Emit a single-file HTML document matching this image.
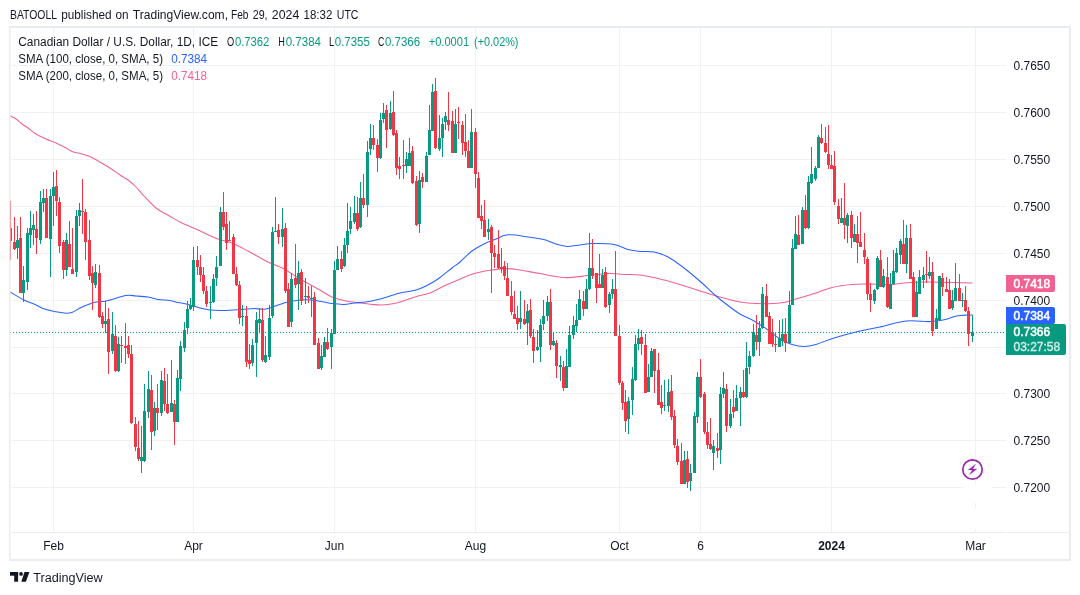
<!DOCTYPE html>
<html><head><meta charset="utf-8"><style>
html,body{margin:0;padding:0;background:#fff;width:1080px;height:595px;overflow:hidden;}
svg{display:block;will-change:transform;}
text{font-family:"Liberation Sans",sans-serif;}
.ax{font-size:12px;fill:#131722;}
.hd{font-size:12.5px;fill:#131722;}
</style></head><body>
<svg width="1080" height="595" viewBox="0 0 1080 595" shape-rendering="crispEdges">
<text x="10.0" y="19" class="hd" textLength="47.0" lengthAdjust="spacingAndGlyphs">BATOOLL</text><text x="61.2" y="19" class="hd" textLength="50.4" lengthAdjust="spacingAndGlyphs">published</text><text x="115.5" y="19" class="hd" textLength="13.1" lengthAdjust="spacingAndGlyphs">on</text><text x="132.8" y="19" class="hd" textLength="95.2" lengthAdjust="spacingAndGlyphs">TradingView.com,</text><text x="231.0" y="19" class="hd" textLength="17.5" lengthAdjust="spacingAndGlyphs">Feb</text><text x="252.7" y="19" class="hd" textLength="14.9" lengthAdjust="spacingAndGlyphs">29,</text><text x="271.8" y="19" class="hd" textLength="27.5" lengthAdjust="spacingAndGlyphs">2024</text><text x="303.5" y="19" class="hd" textLength="28.8" lengthAdjust="spacingAndGlyphs">18:32</text><text x="336.8" y="19" class="hd" textLength="21.7" lengthAdjust="spacingAndGlyphs">UTC</text>

<rect x="11" y="532" width="995" height="1" fill="#e9ecf1"/>
<rect x="1007" y="532" width="62" height="1" fill="#e9ecf1"/>
<defs><clipPath id="cp"><rect x="10" y="28" width="996" height="504"/></clipPath></defs>
<g clip-path="url(#cp)">
<rect x="11" y="487" width="995" height="1" fill="#eff1f3"/>
<rect x="11" y="440" width="995" height="1" fill="#eff1f3"/>
<rect x="11" y="393" width="995" height="1" fill="#eff1f3"/>
<rect x="11" y="347" width="995" height="1" fill="#eff1f3"/>
<rect x="11" y="300" width="995" height="1" fill="#eff1f3"/>
<rect x="11" y="253" width="995" height="1" fill="#eff1f3"/>
<rect x="11" y="206" width="995" height="1" fill="#eff1f3"/>
<rect x="11" y="159" width="995" height="1" fill="#eff1f3"/>
<rect x="11" y="112" width="995" height="1" fill="#eff1f3"/>
<rect x="11" y="65" width="995" height="1" fill="#eff1f3"/>
<rect x="53" y="28" width="1" height="504" fill="#eff1f3"/>
<rect x="193" y="28" width="1" height="504" fill="#eff1f3"/>
<rect x="334" y="28" width="1" height="504" fill="#eff1f3"/>
<rect x="475" y="28" width="1" height="504" fill="#eff1f3"/>
<rect x="619" y="28" width="1" height="504" fill="#eff1f3"/>
<rect x="700" y="28" width="1" height="504" fill="#eff1f3"/>
<rect x="831" y="28" width="1" height="504" fill="#eff1f3"/>
<rect x="975" y="28" width="1" height="504" fill="#eff1f3"/>
<g shape-rendering="geometricPrecision">
<path d="M10,115.6 C11.00,116.17 14.00,117.60 16,119 C18.00,120.40 20.00,122.50 22,124 C24.00,125.50 25.67,126.33 28,128 C30.33,129.67 33.00,132.17 36,134 C39.00,135.83 42.67,137.50 46,139 C49.33,140.50 52.67,141.50 56,143 C59.33,144.50 63.33,146.57 66,148 C68.67,149.43 69.33,150.60 72,151.6 C74.67,152.60 79.00,153.17 82,154 C85.00,154.83 87.33,155.43 90,156.6 C92.67,157.77 94.67,159.10 98,161 C101.33,162.90 106.33,165.67 110,168 C113.67,170.33 117.00,173.00 120,175 C123.00,177.00 125.33,178.00 128,180 C130.67,182.00 133.33,184.33 136,187 C138.67,189.67 140.67,192.50 144,196 C147.33,199.50 152.33,205.00 156,208 C159.67,211.00 163.00,212.23 166,214 C169.00,215.77 171.33,217.10 174,218.6 C176.67,220.10 178.00,221.10 182,223 C186.00,224.90 192.00,227.33 198,230 C204.00,232.67 212.33,236.83 218,239 C223.67,241.17 227.00,241.00 232,243 C237.00,245.00 242.33,248.00 248,251 C253.67,254.00 260.00,258.00 266,261 C272.00,264.00 278.33,266.00 284,269 C289.67,272.00 294.33,275.67 300,279 C305.67,282.33 312.67,286.00 318,289 C323.33,292.00 327.33,295.00 332,297 C336.67,299.00 341.33,300.00 346,301 C350.67,302.00 355.67,302.43 360,303 C364.33,303.57 368.33,304.07 372,304.4 C375.67,304.73 378.33,305.13 382,305 C385.67,304.87 390.00,304.43 394,303.6 C398.00,302.77 402.00,301.27 406,300 C410.00,298.73 414.00,297.17 418,296 C422.00,294.83 425.33,294.83 430,293 C434.67,291.17 441.33,287.17 446,285 C450.67,282.83 453.33,281.90 458,280 C462.67,278.10 468.33,275.27 474,273.6 C479.67,271.93 486.33,270.83 492,270 C497.67,269.17 503.33,268.60 508,268.6 C512.67,268.60 514.67,269.17 520,270 C525.33,270.83 532.67,272.33 540,273.6 C547.33,274.87 556.00,277.27 564,277.6 C572.00,277.93 580.67,276.27 588,275.6 C595.33,274.93 602.00,273.80 608,273.6 C614.00,273.40 618.67,274.17 624,274.4 C629.33,274.63 634.00,274.23 640,275 C646.00,275.77 653.33,277.43 660,279 C666.67,280.57 673.33,282.40 680,284.4 C686.67,286.40 693.33,288.90 700,291 C706.67,293.10 713.33,295.17 720,297 C726.67,298.83 734.00,300.90 740,302 C746.00,303.10 749.33,303.43 756,303.6 C762.67,303.77 773.33,303.77 780,303 C786.67,302.23 790.00,300.67 796,299 C802.00,297.33 810.00,294.93 816,293 C822.00,291.07 826.00,288.83 832,287.4 C838.00,285.97 846.00,284.97 852,284.4 C858.00,283.83 861.33,284.00 868,284 C874.67,284.00 885.00,284.67 892,284.4 C899.00,284.13 903.67,282.80 910,282.4 C916.33,282.00 919.58,281.90 930,282 C940.42,282.10 965.42,282.83 972.5,283" fill="none" stroke="#f06292" stroke-width="1.05"/>
<path d="M10,292 C12.33,293.33 20.00,298.00 24,300 C28.00,302.00 30.33,302.40 34,304 C37.67,305.60 41.00,308.10 46,309.6 C51.00,311.10 59.67,312.53 64,313 C68.33,313.47 69.00,313.40 72,312.4 C75.00,311.40 78.33,308.67 82,307 C85.67,305.33 90.00,303.40 94,302.4 C98.00,301.40 100.67,302.13 106,301 C111.33,299.87 121.00,296.43 126,295.6 C131.00,294.77 132.33,295.77 136,296 C139.67,296.23 144.33,296.43 148,297 C151.67,297.57 154.33,298.80 158,299.4 C161.67,300.00 166.67,300.10 170,300.6 C173.33,301.10 175.00,301.77 178,302.4 C181.00,303.03 184.33,303.47 188,304.4 C191.67,305.33 196.33,307.07 200,308 C203.67,308.93 206.00,309.60 210,310 C214.00,310.40 218.67,310.50 224,310.4 C229.33,310.30 237.00,309.70 242,309.4 C247.00,309.10 250.00,308.67 254,308.6 C258.00,308.53 262.00,309.60 266,309 C270.00,308.40 274.33,306.17 278,305 C281.67,303.83 284.33,302.83 288,302 C291.67,301.17 296.00,300.33 300,300 C304.00,299.67 308.00,299.67 312,300 C316.00,300.33 320.67,301.40 324,302 C327.33,302.60 328.67,303.20 332,303.6 C335.33,304.00 340.33,304.50 344,304.4 C347.67,304.30 350.33,303.40 354,303 C357.67,302.60 362.00,302.57 366,302 C370.00,301.43 374.00,300.60 378,299.6 C382.00,298.60 386.33,297.10 390,296 C393.67,294.90 395.67,294.00 400,293 C404.33,292.00 411.67,291.17 416,290 C420.33,288.83 422.33,287.83 426,286 C429.67,284.17 433.67,282.00 438,279 C442.33,276.00 448.33,270.83 452,268 C455.67,265.17 456.67,264.83 460,262 C463.33,259.17 468.00,254.00 472,251 C476.00,248.00 480.00,246.00 484,244 C488.00,242.00 492.33,240.50 496,239 C499.67,237.50 502.67,235.67 506,235 C509.33,234.33 512.33,234.67 516,235 C519.67,235.33 523.33,236.23 528,237 C532.67,237.77 539.33,238.43 544,239.6 C548.67,240.77 552.00,242.87 556,244 C560.00,245.13 564.00,246.23 568,246.4 C572.00,246.57 576.00,245.47 580,245 C584.00,244.53 586.33,243.70 592,243.6 C597.67,243.50 608.00,243.40 614,244.4 C620.00,245.40 623.67,248.43 628,249.6 C632.33,250.77 635.67,251.00 640,251.4 C644.33,251.80 649.33,251.07 654,252 C658.67,252.93 663.00,254.33 668,257 C673.00,259.67 678.33,263.67 684,268 C689.67,272.33 696.67,278.33 702,283 C707.33,287.67 711.33,292.00 716,296 C720.67,300.00 726.00,304.00 730,307 C734.00,310.00 736.00,311.67 740,314 C744.00,316.33 749.33,318.33 754,321 C758.67,323.67 763.67,327.00 768,330 C772.33,333.00 776.00,336.60 780,339 C784.00,341.40 788.00,343.17 792,344.4 C796.00,345.63 800.00,346.40 804,346.4 C808.00,346.40 811.00,345.80 816,344.4 C821.00,343.00 826.67,340.23 834,338 C841.33,335.77 852.33,332.83 860,331 C867.67,329.17 872.33,328.67 880,327 C887.67,325.33 897.67,321.90 906,321 C914.33,320.10 923.42,321.85 930,321.6 C936.58,321.35 941.07,320.43 945.5,319.5 C949.93,318.57 952.90,316.75 956.6,316 C960.30,315.25 965.05,315.17 967.7,315 C970.35,314.83 971.70,315.00 972.5,315" fill="none" stroke="#2962ff" stroke-width="1.05"/>
</g>
<rect x="10" y="201" width="1" height="59" fill="#f23645"/>
<rect x="9" y="228" width="3" height="13" fill="#f23645"/>
<rect x="14" y="217" width="1" height="33" fill="#f23645"/>
<rect x="13" y="242" width="3" height="7" fill="#f23645"/>
<rect x="17" y="226" width="1" height="33" fill="#089981"/>
<rect x="16" y="240" width="3" height="8" fill="#089981"/>
<rect x="20" y="217" width="1" height="76" fill="#f23645"/>
<rect x="19" y="238" width="3" height="55" fill="#f23645"/>
<rect x="23" y="266" width="1" height="36" fill="#089981"/>
<rect x="22" y="280" width="3" height="13" fill="#089981"/>
<rect x="27" y="228" width="1" height="62" fill="#089981"/>
<rect x="26" y="233" width="3" height="49" fill="#089981"/>
<rect x="30" y="211" width="1" height="37" fill="#089981"/>
<rect x="29" y="228" width="3" height="7" fill="#089981"/>
<rect x="33" y="214" width="1" height="31" fill="#089981"/>
<rect x="32" y="225" width="3" height="5" fill="#089981"/>
<rect x="36" y="211" width="1" height="43" fill="#f23645"/>
<rect x="35" y="229" width="3" height="9" fill="#f23645"/>
<rect x="40" y="191" width="1" height="53" fill="#089981"/>
<rect x="39" y="202" width="3" height="38" fill="#089981"/>
<rect x="43" y="189" width="1" height="23" fill="#089981"/>
<rect x="42" y="198" width="3" height="5" fill="#089981"/>
<rect x="46" y="189" width="1" height="49" fill="#f23645"/>
<rect x="45" y="198" width="3" height="40" fill="#f23645"/>
<rect x="50" y="189" width="1" height="88" fill="#089981"/>
<rect x="49" y="196" width="3" height="43" fill="#089981"/>
<rect x="53" y="172" width="1" height="54" fill="#089981"/>
<rect x="52" y="187" width="3" height="9" fill="#089981"/>
<rect x="56" y="170" width="1" height="46" fill="#f23645"/>
<rect x="55" y="186" width="3" height="15" fill="#f23645"/>
<rect x="59" y="197" width="1" height="56" fill="#f23645"/>
<rect x="58" y="202" width="3" height="44" fill="#f23645"/>
<rect x="63" y="240" width="1" height="39" fill="#f23645"/>
<rect x="62" y="242" width="3" height="28" fill="#f23645"/>
<rect x="66" y="233" width="1" height="43" fill="#089981"/>
<rect x="65" y="240" width="3" height="30" fill="#089981"/>
<rect x="69" y="221" width="1" height="46" fill="#f23645"/>
<rect x="68" y="244" width="3" height="23" fill="#f23645"/>
<rect x="72" y="228" width="1" height="46" fill="#f23645"/>
<rect x="71" y="269" width="3" height="5" fill="#f23645"/>
<rect x="76" y="210" width="1" height="67" fill="#089981"/>
<rect x="75" y="216" width="3" height="56" fill="#089981"/>
<rect x="79" y="203" width="1" height="23" fill="#089981"/>
<rect x="78" y="210" width="3" height="6" fill="#089981"/>
<rect x="82" y="179" width="1" height="55" fill="#f23645"/>
<rect x="81" y="211" width="3" height="1" fill="#f23645"/>
<rect x="85" y="209" width="1" height="51" fill="#f23645"/>
<rect x="84" y="212" width="3" height="30" fill="#f23645"/>
<rect x="89" y="220" width="1" height="60" fill="#f23645"/>
<rect x="88" y="240" width="3" height="36" fill="#f23645"/>
<rect x="92" y="266" width="1" height="44" fill="#f23645"/>
<rect x="91" y="273" width="3" height="10" fill="#f23645"/>
<rect x="95" y="264" width="1" height="24" fill="#089981"/>
<rect x="94" y="272" width="3" height="13" fill="#089981"/>
<rect x="99" y="265" width="1" height="53" fill="#f23645"/>
<rect x="98" y="273" width="3" height="44" fill="#f23645"/>
<rect x="102" y="312" width="1" height="16" fill="#f23645"/>
<rect x="101" y="316" width="3" height="8" fill="#f23645"/>
<rect x="105" y="301" width="1" height="32" fill="#089981"/>
<rect x="104" y="321" width="3" height="3" fill="#089981"/>
<rect x="108" y="308" width="1" height="66" fill="#f23645"/>
<rect x="107" y="319" width="3" height="33" fill="#f23645"/>
<rect x="112" y="312" width="1" height="42" fill="#089981"/>
<rect x="111" y="334" width="3" height="17" fill="#089981"/>
<rect x="115" y="325" width="1" height="47" fill="#f23645"/>
<rect x="114" y="336" width="3" height="35" fill="#f23645"/>
<rect x="118" y="337" width="1" height="35" fill="#089981"/>
<rect x="117" y="344" width="3" height="27" fill="#089981"/>
<rect x="121" y="336" width="1" height="27" fill="#f23645"/>
<rect x="120" y="345" width="3" height="1" fill="#f23645"/>
<rect x="125" y="323" width="1" height="41" fill="#f23645"/>
<rect x="124" y="346" width="3" height="2" fill="#f23645"/>
<rect x="128" y="336" width="1" height="22" fill="#f23645"/>
<rect x="127" y="345" width="3" height="9" fill="#f23645"/>
<rect x="131" y="345" width="1" height="79" fill="#f23645"/>
<rect x="130" y="354" width="3" height="69" fill="#f23645"/>
<rect x="135" y="417" width="1" height="34" fill="#f23645"/>
<rect x="134" y="424" width="3" height="23" fill="#f23645"/>
<rect x="138" y="421" width="1" height="40" fill="#f23645"/>
<rect x="137" y="448" width="3" height="11" fill="#f23645"/>
<rect x="141" y="426" width="1" height="47" fill="#089981"/>
<rect x="140" y="457" width="3" height="4" fill="#089981"/>
<rect x="144" y="384" width="1" height="78" fill="#089981"/>
<rect x="143" y="411" width="3" height="50" fill="#089981"/>
<rect x="148" y="371" width="1" height="47" fill="#089981"/>
<rect x="147" y="389" width="3" height="23" fill="#089981"/>
<rect x="151" y="375" width="1" height="75" fill="#f23645"/>
<rect x="150" y="390" width="3" height="42" fill="#f23645"/>
<rect x="154" y="402" width="1" height="34" fill="#089981"/>
<rect x="153" y="408" width="3" height="23" fill="#089981"/>
<rect x="157" y="384" width="1" height="46" fill="#f23645"/>
<rect x="156" y="408" width="3" height="5" fill="#f23645"/>
<rect x="161" y="371" width="1" height="45" fill="#089981"/>
<rect x="160" y="380" width="3" height="33" fill="#089981"/>
<rect x="164" y="368" width="1" height="43" fill="#f23645"/>
<rect x="163" y="381" width="3" height="23" fill="#f23645"/>
<rect x="167" y="374" width="1" height="40" fill="#f23645"/>
<rect x="166" y="404" width="3" height="9" fill="#f23645"/>
<rect x="171" y="360" width="1" height="52" fill="#089981"/>
<rect x="170" y="403" width="3" height="9" fill="#089981"/>
<rect x="174" y="400" width="1" height="45" fill="#f23645"/>
<rect x="173" y="404" width="3" height="18" fill="#f23645"/>
<rect x="177" y="370" width="1" height="52" fill="#089981"/>
<rect x="176" y="378" width="3" height="44" fill="#089981"/>
<rect x="180" y="341" width="1" height="50" fill="#089981"/>
<rect x="179" y="346" width="3" height="33" fill="#089981"/>
<rect x="184" y="322" width="1" height="30" fill="#089981"/>
<rect x="183" y="330" width="3" height="18" fill="#089981"/>
<rect x="187" y="301" width="1" height="33" fill="#089981"/>
<rect x="186" y="309" width="3" height="19" fill="#089981"/>
<rect x="190" y="298" width="1" height="12" fill="#089981"/>
<rect x="189" y="305" width="3" height="4" fill="#089981"/>
<rect x="193" y="247" width="1" height="64" fill="#089981"/>
<rect x="192" y="260" width="3" height="47" fill="#089981"/>
<rect x="197" y="246" width="1" height="29" fill="#f23645"/>
<rect x="196" y="260" width="3" height="7" fill="#f23645"/>
<rect x="200" y="255" width="1" height="27" fill="#f23645"/>
<rect x="199" y="267" width="3" height="8" fill="#f23645"/>
<rect x="203" y="267" width="1" height="27" fill="#f23645"/>
<rect x="202" y="275" width="3" height="16" fill="#f23645"/>
<rect x="206" y="286" width="1" height="21" fill="#f23645"/>
<rect x="205" y="291" width="3" height="13" fill="#f23645"/>
<rect x="210" y="286" width="1" height="33" fill="#089981"/>
<rect x="209" y="302" width="3" height="1" fill="#089981"/>
<rect x="213" y="274" width="1" height="29" fill="#089981"/>
<rect x="212" y="279" width="3" height="23" fill="#089981"/>
<rect x="216" y="256" width="1" height="30" fill="#089981"/>
<rect x="215" y="267" width="3" height="11" fill="#089981"/>
<rect x="220" y="207" width="1" height="59" fill="#089981"/>
<rect x="219" y="212" width="3" height="54" fill="#089981"/>
<rect x="223" y="192" width="1" height="38" fill="#f23645"/>
<rect x="222" y="212" width="3" height="15" fill="#f23645"/>
<rect x="226" y="212" width="1" height="38" fill="#f23645"/>
<rect x="225" y="224" width="3" height="19" fill="#f23645"/>
<rect x="229" y="221" width="1" height="20" fill="#f23645"/>
<rect x="228" y="240" width="3" height="1" fill="#f23645"/>
<rect x="233" y="234" width="1" height="40" fill="#f23645"/>
<rect x="232" y="237" width="3" height="37" fill="#f23645"/>
<rect x="236" y="267" width="1" height="19" fill="#f23645"/>
<rect x="235" y="274" width="3" height="11" fill="#f23645"/>
<rect x="239" y="281" width="1" height="43" fill="#f23645"/>
<rect x="238" y="285" width="3" height="33" fill="#f23645"/>
<rect x="242" y="305" width="1" height="21" fill="#089981"/>
<rect x="241" y="316" width="3" height="1" fill="#089981"/>
<rect x="246" y="306" width="1" height="61" fill="#f23645"/>
<rect x="245" y="316" width="3" height="46" fill="#f23645"/>
<rect x="249" y="344" width="1" height="25" fill="#f23645"/>
<rect x="248" y="360" width="3" height="4" fill="#f23645"/>
<rect x="252" y="339" width="1" height="27" fill="#089981"/>
<rect x="251" y="345" width="3" height="18" fill="#089981"/>
<rect x="256" y="312" width="1" height="65" fill="#089981"/>
<rect x="255" y="320" width="3" height="23" fill="#089981"/>
<rect x="259" y="309" width="1" height="23" fill="#089981"/>
<rect x="258" y="319" width="3" height="4" fill="#089981"/>
<rect x="262" y="308" width="1" height="54" fill="#f23645"/>
<rect x="261" y="320" width="3" height="40" fill="#f23645"/>
<rect x="265" y="336" width="1" height="27" fill="#089981"/>
<rect x="264" y="355" width="3" height="7" fill="#089981"/>
<rect x="269" y="305" width="1" height="55" fill="#089981"/>
<rect x="268" y="318" width="3" height="39" fill="#089981"/>
<rect x="272" y="227" width="1" height="91" fill="#089981"/>
<rect x="271" y="232" width="3" height="84" fill="#089981"/>
<rect x="275" y="197" width="1" height="35" fill="#089981"/>
<rect x="274" y="231" width="3" height="1" fill="#089981"/>
<rect x="278" y="224" width="1" height="20" fill="#f23645"/>
<rect x="277" y="230" width="3" height="7" fill="#f23645"/>
<rect x="282" y="208" width="1" height="39" fill="#089981"/>
<rect x="281" y="229" width="3" height="8" fill="#089981"/>
<rect x="285" y="223" width="1" height="70" fill="#f23645"/>
<rect x="284" y="228" width="3" height="63" fill="#f23645"/>
<rect x="288" y="283" width="1" height="44" fill="#f23645"/>
<rect x="287" y="289" width="3" height="38" fill="#f23645"/>
<rect x="291" y="273" width="1" height="54" fill="#089981"/>
<rect x="290" y="279" width="3" height="43" fill="#089981"/>
<rect x="295" y="244" width="1" height="44" fill="#f23645"/>
<rect x="294" y="278" width="3" height="7" fill="#f23645"/>
<rect x="298" y="261" width="1" height="49" fill="#089981"/>
<rect x="297" y="273" width="3" height="11" fill="#089981"/>
<rect x="301" y="269" width="1" height="36" fill="#f23645"/>
<rect x="300" y="272" width="3" height="29" fill="#f23645"/>
<rect x="305" y="278" width="1" height="26" fill="#089981"/>
<rect x="304" y="296" width="3" height="1" fill="#089981"/>
<rect x="308" y="286" width="1" height="17" fill="#f23645"/>
<rect x="307" y="296" width="3" height="2" fill="#f23645"/>
<rect x="311" y="286" width="1" height="31" fill="#089981"/>
<rect x="310" y="298" width="3" height="1" fill="#089981"/>
<rect x="314" y="292" width="1" height="53" fill="#f23645"/>
<rect x="313" y="297" width="3" height="48" fill="#f23645"/>
<rect x="318" y="338" width="1" height="31" fill="#f23645"/>
<rect x="317" y="343" width="3" height="26" fill="#f23645"/>
<rect x="321" y="345" width="1" height="25" fill="#089981"/>
<rect x="320" y="356" width="3" height="12" fill="#089981"/>
<rect x="324" y="337" width="1" height="20" fill="#089981"/>
<rect x="323" y="342" width="3" height="15" fill="#089981"/>
<rect x="327" y="328" width="1" height="22" fill="#f23645"/>
<rect x="326" y="342" width="3" height="7" fill="#f23645"/>
<rect x="331" y="329" width="1" height="40" fill="#089981"/>
<rect x="330" y="333" width="3" height="14" fill="#089981"/>
<rect x="334" y="261" width="1" height="73" fill="#089981"/>
<rect x="333" y="270" width="3" height="64" fill="#089981"/>
<rect x="337" y="246" width="1" height="24" fill="#089981"/>
<rect x="336" y="259" width="3" height="11" fill="#089981"/>
<rect x="341" y="251" width="1" height="21" fill="#f23645"/>
<rect x="340" y="259" width="3" height="10" fill="#f23645"/>
<rect x="344" y="238" width="1" height="29" fill="#089981"/>
<rect x="343" y="245" width="3" height="21" fill="#089981"/>
<rect x="347" y="203" width="1" height="50" fill="#089981"/>
<rect x="346" y="231" width="3" height="14" fill="#089981"/>
<rect x="350" y="207" width="1" height="27" fill="#089981"/>
<rect x="349" y="221" width="3" height="8" fill="#089981"/>
<rect x="354" y="196" width="1" height="28" fill="#089981"/>
<rect x="353" y="213" width="3" height="9" fill="#089981"/>
<rect x="357" y="197" width="1" height="34" fill="#f23645"/>
<rect x="356" y="213" width="3" height="16" fill="#f23645"/>
<rect x="360" y="182" width="1" height="46" fill="#089981"/>
<rect x="359" y="198" width="3" height="29" fill="#089981"/>
<rect x="363" y="174" width="1" height="34" fill="#f23645"/>
<rect x="362" y="198" width="3" height="7" fill="#f23645"/>
<rect x="367" y="141" width="1" height="76" fill="#089981"/>
<rect x="366" y="152" width="3" height="53" fill="#089981"/>
<rect x="370" y="124" width="1" height="31" fill="#089981"/>
<rect x="369" y="138" width="3" height="11" fill="#089981"/>
<rect x="373" y="125" width="1" height="25" fill="#f23645"/>
<rect x="372" y="138" width="3" height="7" fill="#f23645"/>
<rect x="377" y="139" width="1" height="33" fill="#f23645"/>
<rect x="376" y="145" width="3" height="13" fill="#f23645"/>
<rect x="380" y="113" width="1" height="46" fill="#089981"/>
<rect x="379" y="120" width="3" height="38" fill="#089981"/>
<rect x="383" y="103" width="1" height="20" fill="#089981"/>
<rect x="382" y="113" width="3" height="6" fill="#089981"/>
<rect x="386" y="105" width="1" height="43" fill="#f23645"/>
<rect x="385" y="110" width="3" height="20" fill="#f23645"/>
<rect x="390" y="101" width="1" height="29" fill="#089981"/>
<rect x="389" y="113" width="3" height="16" fill="#089981"/>
<rect x="393" y="91" width="1" height="45" fill="#f23645"/>
<rect x="392" y="112" width="3" height="23" fill="#f23645"/>
<rect x="396" y="130" width="1" height="45" fill="#f23645"/>
<rect x="395" y="133" width="3" height="35" fill="#f23645"/>
<rect x="399" y="157" width="1" height="22" fill="#f23645"/>
<rect x="398" y="166" width="3" height="3" fill="#f23645"/>
<rect x="403" y="140" width="1" height="39" fill="#f23645"/>
<rect x="402" y="165" width="3" height="1" fill="#f23645"/>
<rect x="406" y="152" width="1" height="21" fill="#089981"/>
<rect x="405" y="159" width="3" height="7" fill="#089981"/>
<rect x="409" y="138" width="1" height="28" fill="#089981"/>
<rect x="408" y="153" width="3" height="13" fill="#089981"/>
<rect x="412" y="146" width="1" height="38" fill="#f23645"/>
<rect x="411" y="151" width="3" height="32" fill="#f23645"/>
<rect x="416" y="176" width="1" height="50" fill="#f23645"/>
<rect x="415" y="181" width="3" height="44" fill="#f23645"/>
<rect x="419" y="171" width="1" height="62" fill="#089981"/>
<rect x="418" y="180" width="3" height="44" fill="#089981"/>
<rect x="422" y="173" width="1" height="15" fill="#f23645"/>
<rect x="421" y="177" width="3" height="5" fill="#f23645"/>
<rect x="426" y="152" width="1" height="30" fill="#089981"/>
<rect x="425" y="156" width="3" height="26" fill="#089981"/>
<rect x="429" y="105" width="1" height="50" fill="#089981"/>
<rect x="428" y="130" width="3" height="25" fill="#089981"/>
<rect x="432" y="84" width="1" height="47" fill="#089981"/>
<rect x="431" y="92" width="3" height="39" fill="#089981"/>
<rect x="435" y="78" width="1" height="71" fill="#f23645"/>
<rect x="434" y="91" width="3" height="57" fill="#f23645"/>
<rect x="439" y="115" width="1" height="36" fill="#089981"/>
<rect x="438" y="138" width="3" height="11" fill="#089981"/>
<rect x="442" y="118" width="1" height="39" fill="#089981"/>
<rect x="441" y="124" width="3" height="14" fill="#089981"/>
<rect x="445" y="112" width="1" height="18" fill="#089981"/>
<rect x="444" y="116" width="3" height="6" fill="#089981"/>
<rect x="448" y="92" width="1" height="39" fill="#f23645"/>
<rect x="447" y="120" width="3" height="5" fill="#f23645"/>
<rect x="452" y="111" width="1" height="42" fill="#f23645"/>
<rect x="451" y="121" width="3" height="32" fill="#f23645"/>
<rect x="455" y="109" width="1" height="44" fill="#089981"/>
<rect x="454" y="124" width="3" height="29" fill="#089981"/>
<rect x="458" y="107" width="1" height="32" fill="#f23645"/>
<rect x="457" y="122" width="3" height="1" fill="#f23645"/>
<rect x="462" y="121" width="1" height="34" fill="#f23645"/>
<rect x="461" y="125" width="3" height="18" fill="#f23645"/>
<rect x="465" y="114" width="1" height="43" fill="#f23645"/>
<rect x="464" y="142" width="3" height="9" fill="#f23645"/>
<rect x="468" y="140" width="1" height="28" fill="#f23645"/>
<rect x="467" y="151" width="3" height="17" fill="#f23645"/>
<rect x="471" y="109" width="1" height="59" fill="#089981"/>
<rect x="470" y="132" width="3" height="36" fill="#089981"/>
<rect x="475" y="128" width="1" height="60" fill="#f23645"/>
<rect x="474" y="132" width="3" height="42" fill="#f23645"/>
<rect x="478" y="172" width="1" height="46" fill="#f23645"/>
<rect x="477" y="178" width="3" height="40" fill="#f23645"/>
<rect x="481" y="205" width="1" height="24" fill="#f23645"/>
<rect x="480" y="216" width="3" height="5" fill="#f23645"/>
<rect x="484" y="200" width="1" height="37" fill="#f23645"/>
<rect x="483" y="220" width="3" height="17" fill="#f23645"/>
<rect x="488" y="219" width="1" height="21" fill="#089981"/>
<rect x="487" y="229" width="3" height="3" fill="#089981"/>
<rect x="491" y="225" width="1" height="68" fill="#f23645"/>
<rect x="490" y="227" width="3" height="26" fill="#f23645"/>
<rect x="494" y="245" width="1" height="23" fill="#f23645"/>
<rect x="493" y="253" width="3" height="4" fill="#f23645"/>
<rect x="498" y="230" width="1" height="39" fill="#f23645"/>
<rect x="497" y="254" width="3" height="14" fill="#f23645"/>
<rect x="501" y="248" width="1" height="25" fill="#f23645"/>
<rect x="500" y="267" width="3" height="2" fill="#f23645"/>
<rect x="504" y="261" width="1" height="19" fill="#f23645"/>
<rect x="503" y="266" width="3" height="10" fill="#f23645"/>
<rect x="507" y="263" width="1" height="33" fill="#f23645"/>
<rect x="506" y="278" width="3" height="18" fill="#f23645"/>
<rect x="511" y="281" width="1" height="34" fill="#f23645"/>
<rect x="510" y="296" width="3" height="16" fill="#f23645"/>
<rect x="514" y="291" width="1" height="28" fill="#f23645"/>
<rect x="513" y="314" width="3" height="5" fill="#f23645"/>
<rect x="517" y="306" width="1" height="24" fill="#f23645"/>
<rect x="516" y="318" width="3" height="6" fill="#f23645"/>
<rect x="520" y="291" width="1" height="38" fill="#089981"/>
<rect x="519" y="318" width="3" height="4" fill="#089981"/>
<rect x="524" y="300" width="1" height="25" fill="#f23645"/>
<rect x="523" y="319" width="3" height="5" fill="#f23645"/>
<rect x="527" y="304" width="1" height="41" fill="#089981"/>
<rect x="526" y="311" width="3" height="12" fill="#089981"/>
<rect x="530" y="299" width="1" height="39" fill="#f23645"/>
<rect x="529" y="310" width="3" height="26" fill="#f23645"/>
<rect x="533" y="329" width="1" height="34" fill="#f23645"/>
<rect x="532" y="337" width="3" height="14" fill="#f23645"/>
<rect x="537" y="330" width="1" height="21" fill="#089981"/>
<rect x="536" y="347" width="3" height="3" fill="#089981"/>
<rect x="540" y="319" width="1" height="43" fill="#089981"/>
<rect x="539" y="325" width="3" height="22" fill="#089981"/>
<rect x="543" y="300" width="1" height="30" fill="#089981"/>
<rect x="542" y="316" width="3" height="8" fill="#089981"/>
<rect x="547" y="296" width="1" height="25" fill="#089981"/>
<rect x="546" y="302" width="3" height="14" fill="#089981"/>
<rect x="550" y="289" width="1" height="61" fill="#f23645"/>
<rect x="549" y="302" width="3" height="43" fill="#f23645"/>
<rect x="553" y="332" width="1" height="14" fill="#089981"/>
<rect x="552" y="341" width="3" height="4" fill="#089981"/>
<rect x="556" y="340" width="1" height="38" fill="#f23645"/>
<rect x="555" y="343" width="3" height="23" fill="#f23645"/>
<rect x="560" y="356" width="1" height="25" fill="#089981"/>
<rect x="559" y="365" width="3" height="2" fill="#089981"/>
<rect x="563" y="361" width="1" height="30" fill="#f23645"/>
<rect x="562" y="367" width="3" height="21" fill="#f23645"/>
<rect x="566" y="349" width="1" height="39" fill="#089981"/>
<rect x="565" y="366" width="3" height="22" fill="#089981"/>
<rect x="569" y="326" width="1" height="41" fill="#089981"/>
<rect x="568" y="335" width="3" height="32" fill="#089981"/>
<rect x="573" y="316" width="1" height="23" fill="#089981"/>
<rect x="572" y="325" width="3" height="10" fill="#089981"/>
<rect x="576" y="304" width="1" height="28" fill="#089981"/>
<rect x="575" y="320" width="3" height="6" fill="#089981"/>
<rect x="579" y="290" width="1" height="30" fill="#089981"/>
<rect x="578" y="299" width="3" height="21" fill="#089981"/>
<rect x="583" y="291" width="1" height="25" fill="#f23645"/>
<rect x="582" y="301" width="3" height="8" fill="#f23645"/>
<rect x="586" y="279" width="1" height="30" fill="#089981"/>
<rect x="585" y="289" width="3" height="20" fill="#089981"/>
<rect x="589" y="233" width="1" height="57" fill="#089981"/>
<rect x="588" y="268" width="3" height="21" fill="#089981"/>
<rect x="592" y="239" width="1" height="40" fill="#f23645"/>
<rect x="591" y="268" width="3" height="8" fill="#f23645"/>
<rect x="596" y="273" width="1" height="30" fill="#f23645"/>
<rect x="595" y="273" width="3" height="15" fill="#f23645"/>
<rect x="599" y="254" width="1" height="34" fill="#f23645"/>
<rect x="598" y="284" width="3" height="4" fill="#f23645"/>
<rect x="602" y="269" width="1" height="19" fill="#089981"/>
<rect x="601" y="275" width="3" height="13" fill="#089981"/>
<rect x="605" y="267" width="1" height="41" fill="#f23645"/>
<rect x="604" y="272" width="3" height="35" fill="#f23645"/>
<rect x="609" y="292" width="1" height="21" fill="#089981"/>
<rect x="608" y="294" width="3" height="11" fill="#089981"/>
<rect x="612" y="279" width="1" height="20" fill="#089981"/>
<rect x="611" y="289" width="3" height="5" fill="#089981"/>
<rect x="615" y="251" width="1" height="85" fill="#f23645"/>
<rect x="614" y="289" width="3" height="47" fill="#f23645"/>
<rect x="619" y="325" width="1" height="60" fill="#f23645"/>
<rect x="618" y="336" width="3" height="47" fill="#f23645"/>
<rect x="622" y="381" width="1" height="29" fill="#f23645"/>
<rect x="621" y="383" width="3" height="20" fill="#f23645"/>
<rect x="625" y="390" width="1" height="42" fill="#f23645"/>
<rect x="624" y="402" width="3" height="19" fill="#f23645"/>
<rect x="628" y="397" width="1" height="37" fill="#089981"/>
<rect x="627" y="401" width="3" height="18" fill="#089981"/>
<rect x="632" y="367" width="1" height="48" fill="#089981"/>
<rect x="631" y="379" width="3" height="21" fill="#089981"/>
<rect x="635" y="335" width="1" height="46" fill="#089981"/>
<rect x="634" y="344" width="3" height="36" fill="#089981"/>
<rect x="638" y="329" width="1" height="21" fill="#089981"/>
<rect x="637" y="338" width="3" height="6" fill="#089981"/>
<rect x="641" y="330" width="1" height="25" fill="#f23645"/>
<rect x="640" y="337" width="3" height="7" fill="#f23645"/>
<rect x="645" y="334" width="1" height="59" fill="#f23645"/>
<rect x="644" y="345" width="3" height="48" fill="#f23645"/>
<rect x="648" y="364" width="1" height="28" fill="#089981"/>
<rect x="647" y="377" width="3" height="15" fill="#089981"/>
<rect x="651" y="348" width="1" height="29" fill="#089981"/>
<rect x="650" y="351" width="3" height="26" fill="#089981"/>
<rect x="654" y="349" width="1" height="44" fill="#f23645"/>
<rect x="653" y="349" width="3" height="22" fill="#f23645"/>
<rect x="658" y="353" width="1" height="52" fill="#f23645"/>
<rect x="657" y="370" width="3" height="35" fill="#f23645"/>
<rect x="661" y="385" width="1" height="29" fill="#f23645"/>
<rect x="660" y="402" width="3" height="6" fill="#f23645"/>
<rect x="664" y="380" width="1" height="31" fill="#089981"/>
<rect x="663" y="405" width="3" height="1" fill="#089981"/>
<rect x="668" y="379" width="1" height="33" fill="#089981"/>
<rect x="667" y="392" width="3" height="14" fill="#089981"/>
<rect x="671" y="375" width="1" height="45" fill="#f23645"/>
<rect x="670" y="391" width="3" height="26" fill="#f23645"/>
<rect x="674" y="410" width="1" height="38" fill="#f23645"/>
<rect x="673" y="416" width="3" height="29" fill="#f23645"/>
<rect x="677" y="439" width="1" height="26" fill="#f23645"/>
<rect x="676" y="446" width="3" height="16" fill="#f23645"/>
<rect x="681" y="443" width="1" height="41" fill="#f23645"/>
<rect x="680" y="461" width="3" height="23" fill="#f23645"/>
<rect x="684" y="451" width="1" height="33" fill="#089981"/>
<rect x="683" y="460" width="3" height="24" fill="#089981"/>
<rect x="687" y="451" width="1" height="37" fill="#f23645"/>
<rect x="686" y="459" width="3" height="23" fill="#f23645"/>
<rect x="690" y="464" width="1" height="27" fill="#089981"/>
<rect x="689" y="473" width="3" height="8" fill="#089981"/>
<rect x="694" y="412" width="1" height="61" fill="#089981"/>
<rect x="693" y="416" width="3" height="57" fill="#089981"/>
<rect x="697" y="372" width="1" height="51" fill="#089981"/>
<rect x="696" y="377" width="3" height="40" fill="#089981"/>
<rect x="700" y="359" width="1" height="39" fill="#f23645"/>
<rect x="699" y="377" width="3" height="20" fill="#f23645"/>
<rect x="704" y="392" width="1" height="42" fill="#f23645"/>
<rect x="703" y="394" width="3" height="38" fill="#f23645"/>
<rect x="707" y="422" width="1" height="27" fill="#f23645"/>
<rect x="706" y="432" width="3" height="13" fill="#f23645"/>
<rect x="710" y="418" width="1" height="32" fill="#f23645"/>
<rect x="709" y="444" width="3" height="5" fill="#f23645"/>
<rect x="713" y="440" width="1" height="30" fill="#089981"/>
<rect x="712" y="446" width="3" height="7" fill="#089981"/>
<rect x="717" y="433" width="1" height="25" fill="#f23645"/>
<rect x="716" y="448" width="3" height="3" fill="#f23645"/>
<rect x="720" y="387" width="1" height="77" fill="#089981"/>
<rect x="719" y="394" width="3" height="56" fill="#089981"/>
<rect x="723" y="372" width="1" height="26" fill="#089981"/>
<rect x="722" y="388" width="3" height="6" fill="#089981"/>
<rect x="726" y="384" width="1" height="48" fill="#f23645"/>
<rect x="725" y="389" width="3" height="37" fill="#f23645"/>
<rect x="730" y="399" width="1" height="29" fill="#089981"/>
<rect x="729" y="414" width="3" height="12" fill="#089981"/>
<rect x="733" y="390" width="1" height="28" fill="#f23645"/>
<rect x="732" y="407" width="3" height="5" fill="#f23645"/>
<rect x="736" y="385" width="1" height="26" fill="#089981"/>
<rect x="735" y="398" width="3" height="13" fill="#089981"/>
<rect x="740" y="387" width="1" height="39" fill="#089981"/>
<rect x="739" y="392" width="3" height="6" fill="#089981"/>
<rect x="743" y="370" width="1" height="28" fill="#f23645"/>
<rect x="742" y="392" width="3" height="5" fill="#f23645"/>
<rect x="746" y="342" width="1" height="56" fill="#089981"/>
<rect x="745" y="368" width="3" height="29" fill="#089981"/>
<rect x="749" y="351" width="1" height="23" fill="#089981"/>
<rect x="748" y="356" width="3" height="11" fill="#089981"/>
<rect x="753" y="324" width="1" height="33" fill="#089981"/>
<rect x="752" y="332" width="3" height="24" fill="#089981"/>
<rect x="756" y="315" width="1" height="35" fill="#f23645"/>
<rect x="755" y="335" width="3" height="7" fill="#f23645"/>
<rect x="759" y="321" width="1" height="35" fill="#089981"/>
<rect x="758" y="328" width="3" height="14" fill="#089981"/>
<rect x="762" y="287" width="1" height="42" fill="#089981"/>
<rect x="761" y="294" width="3" height="34" fill="#089981"/>
<rect x="766" y="284" width="1" height="33" fill="#f23645"/>
<rect x="765" y="296" width="3" height="21" fill="#f23645"/>
<rect x="769" y="312" width="1" height="32" fill="#f23645"/>
<rect x="768" y="316" width="3" height="28" fill="#f23645"/>
<rect x="772" y="319" width="1" height="28" fill="#f23645"/>
<rect x="771" y="332" width="3" height="12" fill="#f23645"/>
<rect x="775" y="333" width="1" height="19" fill="#f23645"/>
<rect x="774" y="344" width="3" height="1" fill="#f23645"/>
<rect x="779" y="320" width="1" height="27" fill="#089981"/>
<rect x="778" y="338" width="3" height="9" fill="#089981"/>
<rect x="782" y="319" width="1" height="27" fill="#089981"/>
<rect x="781" y="334" width="3" height="7" fill="#089981"/>
<rect x="785" y="318" width="1" height="34" fill="#f23645"/>
<rect x="784" y="334" width="3" height="9" fill="#f23645"/>
<rect x="789" y="291" width="1" height="53" fill="#089981"/>
<rect x="788" y="305" width="3" height="38" fill="#089981"/>
<rect x="792" y="239" width="1" height="66" fill="#089981"/>
<rect x="791" y="248" width="3" height="57" fill="#089981"/>
<rect x="795" y="216" width="1" height="33" fill="#089981"/>
<rect x="794" y="234" width="3" height="15" fill="#089981"/>
<rect x="798" y="215" width="1" height="30" fill="#f23645"/>
<rect x="797" y="235" width="3" height="10" fill="#f23645"/>
<rect x="802" y="207" width="1" height="37" fill="#089981"/>
<rect x="801" y="210" width="3" height="34" fill="#089981"/>
<rect x="805" y="195" width="1" height="34" fill="#f23645"/>
<rect x="804" y="210" width="3" height="18" fill="#f23645"/>
<rect x="808" y="176" width="1" height="53" fill="#089981"/>
<rect x="807" y="182" width="3" height="46" fill="#089981"/>
<rect x="811" y="147" width="1" height="37" fill="#089981"/>
<rect x="810" y="174" width="3" height="9" fill="#089981"/>
<rect x="815" y="166" width="1" height="15" fill="#089981"/>
<rect x="814" y="168" width="3" height="11" fill="#089981"/>
<rect x="818" y="135" width="1" height="33" fill="#089981"/>
<rect x="817" y="137" width="3" height="31" fill="#089981"/>
<rect x="821" y="124" width="1" height="20" fill="#f23645"/>
<rect x="820" y="138" width="3" height="5" fill="#f23645"/>
<rect x="825" y="127" width="1" height="26" fill="#f23645"/>
<rect x="824" y="143" width="3" height="9" fill="#f23645"/>
<rect x="828" y="125" width="1" height="44" fill="#f23645"/>
<rect x="827" y="154" width="3" height="11" fill="#f23645"/>
<rect x="831" y="155" width="1" height="14" fill="#f23645"/>
<rect x="830" y="165" width="3" height="4" fill="#f23645"/>
<rect x="834" y="151" width="1" height="54" fill="#f23645"/>
<rect x="833" y="166" width="3" height="36" fill="#f23645"/>
<rect x="838" y="199" width="1" height="25" fill="#f23645"/>
<rect x="837" y="206" width="3" height="13" fill="#f23645"/>
<rect x="841" y="198" width="1" height="25" fill="#089981"/>
<rect x="840" y="218" width="3" height="5" fill="#089981"/>
<rect x="844" y="183" width="1" height="56" fill="#f23645"/>
<rect x="843" y="218" width="3" height="7" fill="#f23645"/>
<rect x="847" y="213" width="1" height="30" fill="#089981"/>
<rect x="846" y="215" width="3" height="11" fill="#089981"/>
<rect x="851" y="211" width="1" height="37" fill="#f23645"/>
<rect x="850" y="215" width="3" height="23" fill="#f23645"/>
<rect x="854" y="224" width="1" height="18" fill="#089981"/>
<rect x="853" y="234" width="3" height="8" fill="#089981"/>
<rect x="857" y="216" width="1" height="47" fill="#f23645"/>
<rect x="856" y="234" width="3" height="9" fill="#f23645"/>
<rect x="860" y="212" width="1" height="35" fill="#f23645"/>
<rect x="859" y="242" width="3" height="5" fill="#f23645"/>
<rect x="864" y="233" width="1" height="31" fill="#f23645"/>
<rect x="863" y="250" width="3" height="7" fill="#f23645"/>
<rect x="867" y="257" width="1" height="43" fill="#f23645"/>
<rect x="866" y="259" width="3" height="35" fill="#f23645"/>
<rect x="870" y="283" width="1" height="29" fill="#f23645"/>
<rect x="869" y="294" width="3" height="6" fill="#f23645"/>
<rect x="874" y="289" width="1" height="15" fill="#089981"/>
<rect x="873" y="290" width="3" height="11" fill="#089981"/>
<rect x="877" y="256" width="1" height="34" fill="#089981"/>
<rect x="876" y="258" width="3" height="31" fill="#089981"/>
<rect x="880" y="250" width="1" height="37" fill="#f23645"/>
<rect x="879" y="260" width="3" height="27" fill="#f23645"/>
<rect x="883" y="269" width="1" height="19" fill="#089981"/>
<rect x="882" y="276" width="3" height="11" fill="#089981"/>
<rect x="887" y="257" width="1" height="51" fill="#f23645"/>
<rect x="886" y="277" width="3" height="30" fill="#f23645"/>
<rect x="890" y="273" width="1" height="36" fill="#089981"/>
<rect x="889" y="284" width="3" height="25" fill="#089981"/>
<rect x="893" y="250" width="1" height="35" fill="#089981"/>
<rect x="892" y="271" width="3" height="13" fill="#089981"/>
<rect x="896" y="248" width="1" height="25" fill="#089981"/>
<rect x="895" y="253" width="3" height="19" fill="#089981"/>
<rect x="900" y="239" width="1" height="25" fill="#089981"/>
<rect x="899" y="241" width="3" height="14" fill="#089981"/>
<rect x="903" y="220" width="1" height="44" fill="#f23645"/>
<rect x="902" y="244" width="3" height="20" fill="#f23645"/>
<rect x="906" y="225" width="1" height="48" fill="#089981"/>
<rect x="905" y="238" width="3" height="26" fill="#089981"/>
<rect x="910" y="224" width="1" height="55" fill="#f23645"/>
<rect x="909" y="238" width="3" height="41" fill="#f23645"/>
<rect x="913" y="272" width="1" height="45" fill="#f23645"/>
<rect x="912" y="277" width="3" height="40" fill="#f23645"/>
<rect x="916" y="281" width="1" height="36" fill="#089981"/>
<rect x="915" y="292" width="3" height="25" fill="#089981"/>
<rect x="919" y="270" width="1" height="24" fill="#089981"/>
<rect x="918" y="277" width="3" height="17" fill="#089981"/>
<rect x="923" y="267" width="1" height="21" fill="#089981"/>
<rect x="922" y="275" width="3" height="5" fill="#089981"/>
<rect x="926" y="251" width="1" height="32" fill="#f23645"/>
<rect x="925" y="274" width="3" height="1" fill="#f23645"/>
<rect x="929" y="257" width="1" height="22" fill="#089981"/>
<rect x="928" y="272" width="3" height="4" fill="#089981"/>
<rect x="932" y="262" width="1" height="74" fill="#f23645"/>
<rect x="931" y="272" width="3" height="59" fill="#f23645"/>
<rect x="936" y="309" width="1" height="20" fill="#089981"/>
<rect x="935" y="318" width="3" height="11" fill="#089981"/>
<rect x="939" y="276" width="1" height="44" fill="#089981"/>
<rect x="938" y="276" width="3" height="44" fill="#089981"/>
<rect x="942" y="273" width="1" height="23" fill="#f23645"/>
<rect x="941" y="278" width="3" height="9" fill="#f23645"/>
<rect x="946" y="277" width="1" height="15" fill="#f23645"/>
<rect x="945" y="289" width="3" height="3" fill="#f23645"/>
<rect x="949" y="279" width="1" height="30" fill="#f23645"/>
<rect x="948" y="290" width="3" height="19" fill="#f23645"/>
<rect x="952" y="290" width="1" height="20" fill="#089981"/>
<rect x="951" y="300" width="3" height="8" fill="#089981"/>
<rect x="955" y="263" width="1" height="38" fill="#089981"/>
<rect x="954" y="288" width="3" height="13" fill="#089981"/>
<rect x="959" y="274" width="1" height="27" fill="#f23645"/>
<rect x="958" y="288" width="3" height="13" fill="#f23645"/>
<rect x="962" y="293" width="1" height="14" fill="#089981"/>
<rect x="961" y="300" width="3" height="1" fill="#089981"/>
<rect x="965" y="286" width="1" height="26" fill="#f23645"/>
<rect x="964" y="300" width="3" height="11" fill="#f23645"/>
<rect x="968" y="307" width="1" height="39" fill="#f23645"/>
<rect x="967" y="311" width="3" height="23" fill="#f23645"/>
<rect x="972" y="315" width="1" height="27" fill="#089981"/>
<rect x="971" y="332" width="3" height="4" fill="#089981"/>
<line x1="10" y1="332.0" x2="1006" y2="332.0" stroke="#089981" stroke-width="1" stroke-dasharray="1 2"/>
</g>
<rect x="9" y="26" width="1062" height="535" fill="none" stroke="#e9ecf1" stroke-width="0" />
<rect x="9" y="26" width="1062" height="2" fill="#e9ecf1"/>
<rect x="9" y="559" width="1062" height="2" fill="#e9ecf1"/>
<rect x="9" y="26" width="1" height="535" fill="#e9ecf1"/>
<rect x="10" y="28" width="1" height="531" fill="#e9ecf1" fill-opacity="0.55"/>
<rect x="1069" y="26" width="2" height="535" fill="#e9ecf1"/>
<g shape-rendering="geometricPrecision">
<text x="1013.5" y="70.0" class="ax">0.7650</text><text x="1013.5" y="116.9" class="ax">0.7600</text><text x="1013.5" y="163.8" class="ax">0.7550</text><text x="1013.5" y="210.7" class="ax">0.7500</text><text x="1013.5" y="257.6" class="ax">0.7450</text><text x="1013.5" y="304.5" class="ax">0.7400</text><text x="1013.5" y="398.3" class="ax">0.7300</text><text x="1013.5" y="445.2" class="ax">0.7250</text><text x="1013.5" y="492.1" class="ax">0.7200</text>
<text x="53.5" y="550" text-anchor="middle" class="ax" font-weight="400">Feb</text><text x="193.5" y="550" text-anchor="middle" class="ax" font-weight="400">Apr</text><text x="334.5" y="550" text-anchor="middle" class="ax" font-weight="400">Jun</text><text x="475.5" y="550" text-anchor="middle" class="ax" font-weight="400">Aug</text><text x="619.5" y="550" text-anchor="middle" class="ax" font-weight="400">Oct</text><text x="700.5" y="550" text-anchor="middle" class="ax" font-weight="400">6</text><text x="831.5" y="550" text-anchor="middle" class="ax" font-weight="700">2024</text><text x="975.5" y="550" text-anchor="middle" class="ax" font-weight="400">Mar</text>
<text x="18.25" y="46" class="ax" textLength="200" lengthAdjust="spacingAndGlyphs">Canadian Dollar / U.S. Dollar, 1D, ICE</text>
<text x="227" y="46" class="ax" textLength="7.2" lengthAdjust="spacingAndGlyphs">O</text>
<text x="234.9" y="46" class="ax" style="fill:#089981" textLength="34.5" lengthAdjust="spacingAndGlyphs">0.7362</text>
<text x="278.3" y="46" class="ax" textLength="6.6" lengthAdjust="spacingAndGlyphs">H</text>
<text x="285.7" y="46" class="ax" style="fill:#089981" textLength="35.3" lengthAdjust="spacingAndGlyphs">0.7384</text>
<text x="329" y="46" class="ax" textLength="5.2" lengthAdjust="spacingAndGlyphs">L</text>
<text x="334.8" y="46" class="ax" style="fill:#089981" textLength="35" lengthAdjust="spacingAndGlyphs">0.7355</text>
<text x="377.9" y="46" class="ax" textLength="6.3" lengthAdjust="spacingAndGlyphs">C</text>
<text x="385" y="46" class="ax" style="fill:#089981" textLength="35" lengthAdjust="spacingAndGlyphs">0.7366</text>
<text x="428.7" y="46" class="ax" style="fill:#089981" textLength="40.4" lengthAdjust="spacingAndGlyphs">+0.0001</text>
<text x="474" y="46" class="ax" style="fill:#089981" textLength="44.5" lengthAdjust="spacingAndGlyphs">(+0.02%)</text>
<text x="18.25" y="63.3" class="ax" textLength="144.75" lengthAdjust="spacingAndGlyphs">SMA (100, close, 0, SMA, 5)</text>
<text x="171.25" y="63.3" class="ax" style="fill:#2962ff" textLength="35.75" lengthAdjust="spacingAndGlyphs">0.7384</text>
<text x="18.25" y="80" class="ax" textLength="144.75" lengthAdjust="spacingAndGlyphs">SMA (200, close, 0, SMA, 5)</text>
<text x="171.25" y="80" class="ax" style="fill:#f06292" textLength="35.75" lengthAdjust="spacingAndGlyphs">0.7418</text>
<g transform="translate(0,0)">
<rect x="10" y="572" width="8.1" height="3.7" fill="#131722"/>
<rect x="14.2" y="572" width="3.9" height="9.7" fill="#131722"/>
<circle cx="21.05" cy="573.9" r="1.85" fill="#131722"/>
<polygon points="24.5,572.1 29.4,572.1 25.9,581.8 21.3,581.8" fill="#131722"/>
</g>
<text x="33.2" y="581.7" style="font-size:12.5px;fill:#131722" textLength="69.5" lengthAdjust="spacingAndGlyphs">TradingView</text>
<rect x="961" y="458" width="23" height="22.3" fill="#fff"/><rect x="964.2" y="484.5" width="27.7" height="18.5" fill="#fff"/><rect x="964.2" y="508.7" width="27.7" height="20.3" fill="#fff"/>
<circle cx="972.5" cy="469.5" r="9.7" fill="#fff" stroke="#9c27b0" stroke-width="1.7"/>
<polygon points="975.6,464.2 968.2,469.9 972.3,469.9 969.5,474.7 976.8,469.1 972.8,469.1" fill="#9c27b0" stroke="#9c27b0" stroke-width="0.3" stroke-linejoin="round"/>
<path d="M1006,275 H1053 Q1055,275 1055,277 V290 Q1055,292 1053,292 H1006 Z" fill="#f06292"/>
<text x="1013.5" y="287.5" class="ax" style="fill:#fff;stroke:#fff;stroke-width:0.5">0.7418</text>
<path d="M1006,307 H1053 Q1055,307 1055,309 V322 Q1055,324 1053,324 H1006 Z" fill="#2962ff"/>
<text x="1013.5" y="319.5" class="ax" style="fill:#fff;stroke:#fff;stroke-width:0.5">0.7384</text>
<path d="M1006,324 H1064 Q1066,324 1066,326 V353 Q1066,355 1064,355 H1006 Z" fill="#089981"/>
<text x="1013.5" y="336" class="ax" style="fill:#fff;stroke:#fff;stroke-width:0.5">0.7366</text>
<text x="1013.5" y="351" class="ax" style="fill:#fff;stroke:#fff;stroke-width:0.4;opacity:.8">03:27:58</text>
</g>
</svg>
</body></html>
